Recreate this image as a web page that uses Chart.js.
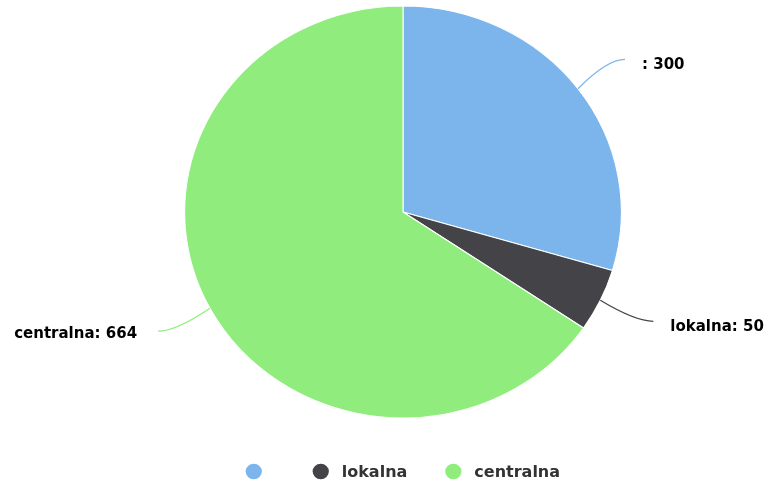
<!DOCTYPE html>
<html><head><meta charset="utf-8">
<script src="https://cdn.jsdelivr.net/npm/chart.js@4"></script>
<style>html,body{margin:0;padding:0;background:#fff}#wrap{width:769px;height:486px}</style>
</head><body><div id="wrap"><canvas id="c" width="769" height="486"></canvas></div>
<script>
const categories = ['', 'lokalna', 'centralna'];
const values = [300, 50, 664];
const colors = ['#7cb5ec', '#434348', '#90ed7d'];

const STRETCH_X = 1.06;
const FONT = 'DejaVu Sans';

const stretchPlugin = {
  id: 'stretch',
  beforeDatasetsDraw(chart) {
    const m = chart.getDatasetMeta(0).data[0];
    const ctx = chart.ctx;
    ctx.save();
    ctx.translate(m.x, m.y); ctx.scale(STRETCH_X, 1); ctx.translate(-m.x, -m.y);
  },
  afterDatasetsDraw(chart) { chart.ctx.restore(); }
};

const labelPlugin = {
  id: 'pieLabels',
  afterDraw(chart) {
    const ctx = chart.ctx;
    const meta = chart.getDatasetMeta(0);
    const d = 49;
    let pcx = 0, pcy = 0;
    meta.data.forEach((arc, i) => {
      const p = arc.getProps(['x','y','startAngle','endAngle','outerRadius'], true);
      pcx = p.x; pcy = p.y;
      const mid = (p.startAngle + p.endAngle) / 2;
      const c = Math.cos(mid), s = Math.sin(mid);
      const R = p.outerRadius;
      const sx = p.x + R * c * STRETCH_X, sy = p.y + R * s;
      const ex = p.x + (R + d) * c * STRETCH_X * 1.025, ey = p.y + (R + d) * s;
      const right = c >= 0;
      const cx = ex - (right ? 18 : -18), cy = ey;
      ctx.save();
      ctx.strokeStyle = colors[i];
      ctx.lineWidth = 1.2;
      ctx.beginPath();
      ctx.moveTo(sx, sy);
      ctx.quadraticCurveTo(cx, cy, ex, ey);
      ctx.stroke();
      const txt = categories[i] + ': ' + values[i];
      ctx.font = 'bold 15px "' + FONT + '"';
      ctx.textBaseline = 'middle';
      ctx.textAlign = right ? 'left' : 'right';
      const tx = right ? ex + 17 : ex - 21;
      const ty = ey + (right ? 5.5 : 3);
      ctx.lineJoin = 'round';
      ctx.strokeStyle = '#ffffff';
      ctx.lineWidth = 2;
      ctx.strokeText(txt, tx, ty);
      ctx.fillStyle = '#000000';
      ctx.fillText(txt, tx, ty);
      ctx.restore();
    });

    // legend (built from the same category / colour arrays)
    ctx.save();
    ctx.font = 'bold 16px "' + FONT + '"';
    const gapText = 21, gapItem = 46, r = 7.8;
    const widths = categories.map(t => ctx.measureText(t).width);
    let total = r;
    widths.forEach((w, i) => { total += gapText + w + (i < widths.length - 1 ? gapItem : 0); });
    let x = pcx - total / 2 + r;
    const ly = 473;
    categories.forEach((t, i) => {
      ctx.fillStyle = colors[i];
      ctx.beginPath();
      ctx.ellipse(x, ly - 1.5, r * 1.04, r, 0, 0, Math.PI * 2);
      ctx.fill();
      ctx.fillStyle = '#333333';
      ctx.textAlign = 'left';
      ctx.textBaseline = 'middle';
      ctx.fillText(t, x + gapText, ly);
      x += gapText + widths[i] + gapItem;
    });
    ctx.restore();
  }
};

new Chart(document.getElementById('c'), {
  type: 'pie',
  data: {
    labels: categories,
    datasets: [{
      data: values,
      backgroundColor: colors,
      borderColor: '#ffffff',
      borderWidth: 1,
      radius: 206
    }]
  },
  options: {
    responsive: false,
    animation: false,
    devicePixelRatio: 1,
    layout: { padding: { top: 6, left: 37, right: 0, bottom: 68 } },
    plugins: {
      tooltip: { enabled: false },
      legend: { display: false }
    }
  },
  plugins: [stretchPlugin, labelPlugin]
});
</script>
</body></html>
